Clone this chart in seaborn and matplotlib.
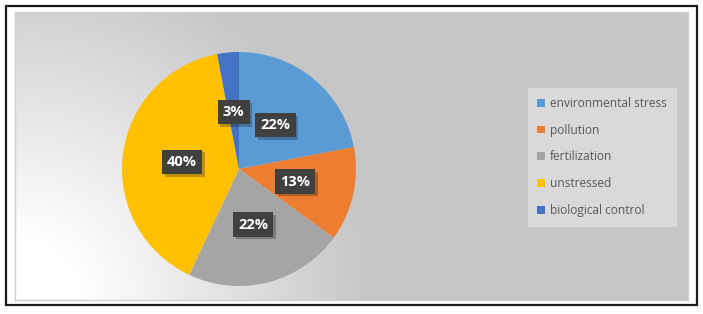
import numpy as np
import matplotlib
matplotlib.use("Agg")
import matplotlib.pyplot as plt
import matplotlib.patheffects as pe
from matplotlib.patches import Rectangle
import seaborn as sns

categories = ["environmental stress", "pollution", "fertilization", "unstressed", "biological control"]
values = [22, 13, 22, 40, 3]
colors = ["#5b9bd5", "#ed7d31", "#a5a5a5", "#ffc000", "#4472c4"]

sns.set_style("white")
plt.rcParams["font.family"] = ["Open Sans", "DejaVu Sans"]

W, H = 703, 314
fig = plt.figure(figsize=(W / 100, H / 100), dpi=100)
fig.patch.set_facecolor("white")

# outer black frame
fig.patches.append(Rectangle((6 / W, 1 - 305 / H), (697 - 6) / W, (305 - 6) / H,
                             transform=fig.transFigure, fill=False, ec="#1a1a1a", lw=1.6))

# inner gradient panel
x0, x1, y0, y1 = 15, 688, 12, 300
bg = fig.add_axes([x0 / W, 1 - y1 / H, (x1 - x0) / W, (y1 - y0) / H])
xs = np.arange(x0, x1)
ys = np.arange(y0, y1)
X, Y = np.meshgrid(xs, ys)
d = np.sqrt((X - 20) ** 2 + ((Y - 300) * 1.0) ** 2)
t = np.clip((d - 60) / 290, 0, 1)
val = 1.0 - t * (1.0 - 0xc6 / 255)
img = np.dstack([val, val, val])
bg.imshow(img, aspect="auto", extent=[0, 1, 0, 1], interpolation="bilinear")
bg.set_xlim(0, 1); bg.set_ylim(0, 1)
for s in bg.spines.values():
    s.set_color("#d0d0d0"); s.set_linewidth(1.0)
bg.set_xticks([]); bg.set_yticks([])

# pie
cx, cy, r = 239, 169, 117
ax = fig.add_axes([(cx - r) / W, 1 - (cy + r) / H, 2 * r / W, 2 * r / H])
ax.set_facecolor("none")
wedges, texts = ax.pie(values, colors=colors, startangle=90, counterclock=False,
                       radius=1.0, wedgeprops=dict(linewidth=0))
ax.set_xlim(-1, 1); ax.set_ylim(-1, 1)
ax.set_aspect("auto")
ax.axis("off")
tot = sum(values)
for w, v in zip(wedges, values):
    ang = np.deg2rad((w.theta1 + w.theta2) / 2)
    rr = 0.49
    lbl = f"{round(100 * v / tot)}%"
    t = ax.text(rr * np.cos(ang), rr * np.sin(ang), lbl, ha="center", va="center",
                color="white", fontsize=10.5, fontweight="bold",
                bbox=dict(boxstyle="square,pad=0.35", fc="#404040", ec="none"), zorder=5)
    t.get_bbox_patch().set_path_effects([
        pe.SimplePatchShadow(offset=(2, -2), shadow_rgbFace="black", alpha=0.25),
        pe.Normal()])

# legend
handles = [Rectangle((0, 0), 1, 1, fc=c, ec="none") for c in colors]
leg = fig.legend(handles, categories, loc="upper left",
                 bbox_to_anchor=(528 / W, 1 - 88 / H), frameon=True, fancybox=False,
                 fontsize=8.6, labelcolor="#595959", handlelength=0.65, handleheight=0.65,
                 handletextpad=0.45, labelspacing=1.15, borderpad=0.75, borderaxespad=0)
leg.get_frame().set_facecolor("#d9d9d9")
leg.get_frame().set_edgecolor("#d9d9d9")
leg.get_frame().set_alpha(1)

fig.savefig("out.png", dpi=100)
